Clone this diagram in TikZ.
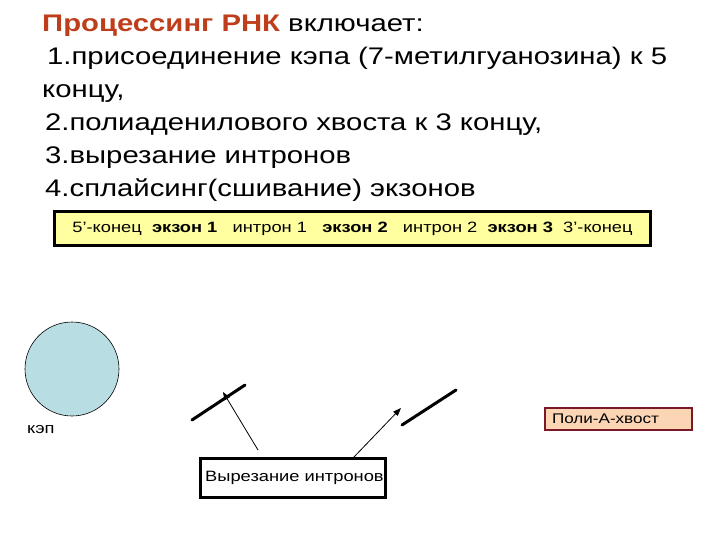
\documentclass[tikz,border=0pt]{standalone}
\usepackage{fontspec}
\setmainfont[FakeStretch=1.22]{Liberation Sans}
\usepackage{tkz-euclide}
\usetikzlibrary{arrows.meta}

\definecolor{titlered}{RGB}{190,62,28}
\definecolor{barfill}{RGB}{255,255,160}
\definecolor{capfill}{RGB}{184,222,228}
\definecolor{tailfill}{RGB}{252,213,181}
\definecolor{tailline}{RGB}{122,24,40}

\tikzset{
  small/.style={font=\fontsize{15bp}{17bp}\selectfont},
  framebox/.style={draw=black, line width=3bp, inner sep=0pt},
  strand/.style={line width=3bp},
  cut/.style={line width=0.8bp, -{Triangle[length=8bp,width=6bp]}}
}

\begin{document}
\begin{tikzpicture}[x=1bp,y=-1bp]
    \useasboundingbox (0,0) rectangle (720,540);
    % Definitions:
    \node[anchor=north west, align=left, inner sep=0pt,
          font=\fontsize{24bp}{33bp}\selectfont] (text) at (42,15)
      {\textcolor{titlered}{\textbf{Процессинг РНК}} включает:\\
       \hspace*{5bp}1.присоединение кэпа (7-метилгуанозина) к 5\\
       концу,\\
       \hspace*{3bp}2.полиаденилового хвоста к 3 концу,\\
       \hspace*{3bp}3.вырезание интронов\\
       \hspace*{3bp}4.сплайсинг(сшивание) экзонов};
    \node[framebox, fill=barfill, small, minimum width=595bp,
          minimum height=34bp] (rna) at (352.5,229)
      {5’-конец\ \ \textbf{экзон 1}\ \ \ интрон 1\ \ \ \textbf{экзон 2}\ \ \ интрон 2\ \ \textbf{экзон 3}\ \ 3’-конец};
    \node[circle, draw=black, line width=0.6bp, fill=capfill,
          minimum size=94bp] (cap) at (72,369) {};
    \node[small, anchor=west, inner sep=0pt] (caplabel) at (27,430) {кэп};
    \node[framebox, fill=white, minimum width=185bp,
          minimum height=39bp] (excise) at (292.5,477.5) {};
    \node[small, anchor=west, inner sep=0pt] (exciselabel) at (205,477.5)
      {Вырезание интронов};
    \node[draw=tailline, line width=2bp, fill=tailfill,
          font=\fontsize{14bp}{16bp}\selectfont, inner xsep=7bp,
          text width=133bp, align=left, minimum height=22bp] (tail) at (618.5,419)
      {Поли-А-хвост};
    \tkzDefPoint(192,420){a}
    \tkzDefPoint(245,385){b}
    \tkzDefPoint(402,425){c}
    \tkzDefPoint(456,390){d}
    \tkzDefPoint(258,450){p}
    \tkzDefPoint(223,392){q}
    \tkzDefPoint(354,457){r}
    \tkzDefPoint(401,408){s}
    % Drawing:
    \tkzDrawSegments[strand](a,b c,d)
    \tkzDrawSegments[cut](p,q r,s)
\end{tikzpicture}
\end{document}
